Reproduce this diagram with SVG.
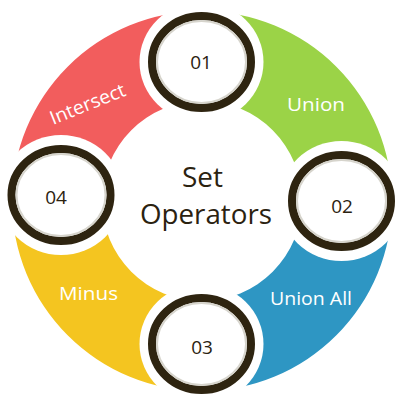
<svg xmlns="http://www.w3.org/2000/svg" width="406" height="401" viewBox="0 0 406 401">
<style>
.lbl{font-family:"Open Sans","Liberation Sans",sans-serif;font-size:19px;fill:#ffffff;text-anchor:middle}
.num{font-family:"Open Sans","Liberation Sans",sans-serif;font-size:19px;font-weight:500;fill:#2b2210;text-anchor:middle}
.title{font-family:"Open Sans","Liberation Sans",sans-serif;font-size:28px;fill:#2b2210;text-anchor:middle}
.gap{fill:#ffffff}
.ring{fill:#ffffff;stroke:#2e2410;stroke-width:8}
.shade{fill:none;stroke:#d6d4cc;stroke-width:2}
</style>
<rect width="406" height="401" fill="#ffffff"/>
<g id="segments">
<path id="seg-intersect" d="M12,201 A190 190 0 0 1 202,11 L202,101 A100 100 0 0 0 102,201 Z" fill="#f25d5d"/>
<path id="seg-union" d="M202,11 A190 190 0 0 1 392,201 L302,201 A100 100 0 0 0 202,101 Z" fill="#9bd347"/>
<path id="seg-unionall" d="M392,201 A190 190 0 0 1 202,391 L202,301 A100 100 0 0 0 302,201 Z" fill="#2e96c3"/>
<path id="seg-minus" d="M202,391 A190 190 0 0 1 12,201 L102,201 A100 100 0 0 0 202,301 Z" fill="#f4c520"/>
</g>
<g id="gaps">
<ellipse class="gap" cx="201.5" cy="62" rx="62" ry="60"/>
<ellipse class="gap" cx="341.5" cy="201" rx="62" ry="60"/>
<ellipse class="gap" cx="201.5" cy="344" rx="62" ry="60"/>
<ellipse class="gap" cx="61" cy="195" rx="62" ry="60"/>
</g>
<g id="connectors"></g>
<g id="node-01">
<ellipse class="ring" cx="201.5" cy="62" rx="49.5" ry="46"/>
<ellipse class="shade" cx="201.5" cy="62" rx="44.5" ry="41"/>
<text class="num" x="201" y="68.5">01</text>
</g>
<g id="node-02">
<ellipse class="ring" cx="341.5" cy="201" rx="49.5" ry="46"/>
<ellipse class="shade" cx="341.5" cy="201" rx="44.5" ry="41"/>
<text class="num" x="342" y="213">02</text>
</g>
<g id="node-03">
<ellipse class="ring" cx="201.5" cy="344" rx="49.5" ry="46"/>
<ellipse class="shade" cx="201.5" cy="344" rx="44.5" ry="41"/>
<text class="num" x="202" y="354">03</text>
</g>
<g id="node-04">
<ellipse class="ring" cx="61" cy="195" rx="49.5" ry="46"/>
<ellipse class="shade" cx="61" cy="195" rx="44.5" ry="41"/>
<text class="num" x="56" y="204">04</text>
</g>
<g id="labels">
<text class="lbl" x="316" y="111" textLength="58" lengthAdjust="spacingAndGlyphs">Union</text>
<text class="lbl" x="311" y="305" textLength="82" lengthAdjust="spacingAndGlyphs">Union All</text>
<text class="lbl" x="88.5" y="300" textLength="59" lengthAdjust="spacingAndGlyphs">Minus</text>
<text class="lbl" x="90" y="110" transform="rotate(-22 90 110)" textLength="80" lengthAdjust="spacingAndGlyphs">Intersect</text>
</g>
<g id="center">
<text class="title" x="202.5" y="187" textLength="41" lengthAdjust="spacingAndGlyphs">Set</text>
<text class="title" x="206" y="224" textLength="132" lengthAdjust="spacingAndGlyphs">Operators</text>
</g>
</svg>
